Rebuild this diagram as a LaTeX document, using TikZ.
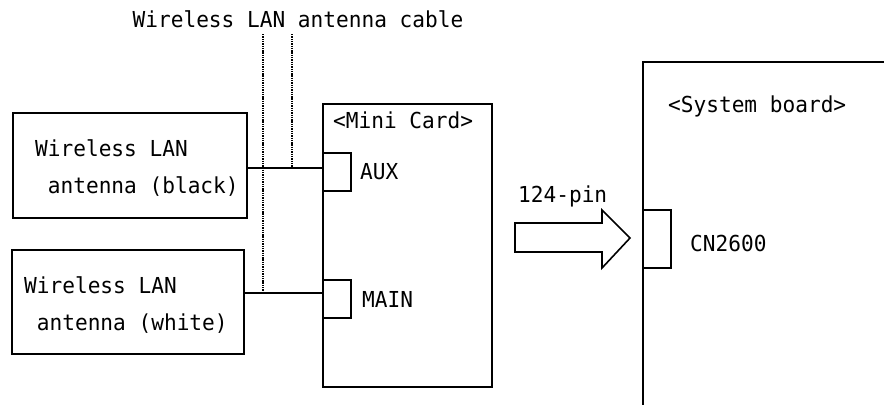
\documentclass[tikz,border=0pt]{standalone}
\usepackage{fontspec}
\newfontfamily\gothic[FakeStretch=0.96]{DejaVu Sans Mono}
\usetikzlibrary{positioning}

\begin{document}
\begin{tikzpicture}[x=1pt,y=-1pt,
	box/.style={draw,line width=2pt,inner sep=0pt},
	port/.style={box,minimum width=28pt,minimum height=38pt},
	lbl/.style={font=\gothic\fontsize{22}{37}\selectfont,inner sep=0pt,anchor=west,align=left},
	wire/.style={line width=2pt},
	cable/.style={line width=2.4pt,dash pattern=on 1.4pt off 0.9pt}]
	\useasboundingbox (0,0) rectangle (884,405);
	\node[box,minimum width=234pt,minimum height=105pt] (black) at (130,165.5) {};
	\node[box,minimum width=232pt,minimum height=104pt] (white) at (128,302) {};
	\node[box,minimum width=169pt,minimum height=283pt] (minicard) at (407.5,245.5) {};
	\node[port] (aux) at (337,172) {};
	\node[port] (main) at (337,298.5) {};
	\draw[wire] (884,62) -- (643,62) -- (643,405);
	\node[port,minimum height=58pt] (cn) at (657,239) {};
	\coordinate (auxin) at ([yshift=4pt]aux.west);
	\coordinate (mainin) at ([yshift=5.5pt]main.west);
	\coordinate (cabletop1) at (263,34);
	\coordinate (cabletop2) at (292,34);
	\draw[wire] (black.east |- auxin) -- (auxin);
	\draw[wire] (white.east |- mainin) -- (mainin);
	\draw[cable] (cabletop1) -- (cabletop1 |- mainin);
	\draw[cable] (cabletop2) -- (cabletop2 |- auxin);
	\draw[wire,line width=1.6pt] (515,223) -- (602,223) -- (602,210) -- (630,238) -- (602,268) -- (602,252) -- (515,252) -- cycle;
	\node[lbl,anchor=base] (cabletitle) at (298,27) {Wireless LAN antenna cable};
	\node[lbl] (blacktxt) at (35,168) {Wireless LAN\\\phantom{W}antenna (black)};
	\node[lbl] (whitetxt) at (24,305) {Wireless LAN\\\phantom{W}antenna (white)};
	\node[lbl] (cardtxt) at (333,120) {<Mini Card>};
	\node[lbl] (auxtxt) at (360,172) {AUX};
	\node[lbl] (maintxt) at (362,299) {MAIN};
	\node[lbl,anchor=base west] (pintxt) at (518,202) {124-pin};
	\node[lbl] (cntxt) at (690,243) {CN2600};
	\node[lbl] (boardtxt) at (668,106) {<System board>};
\end{tikzpicture}
\end{document}
